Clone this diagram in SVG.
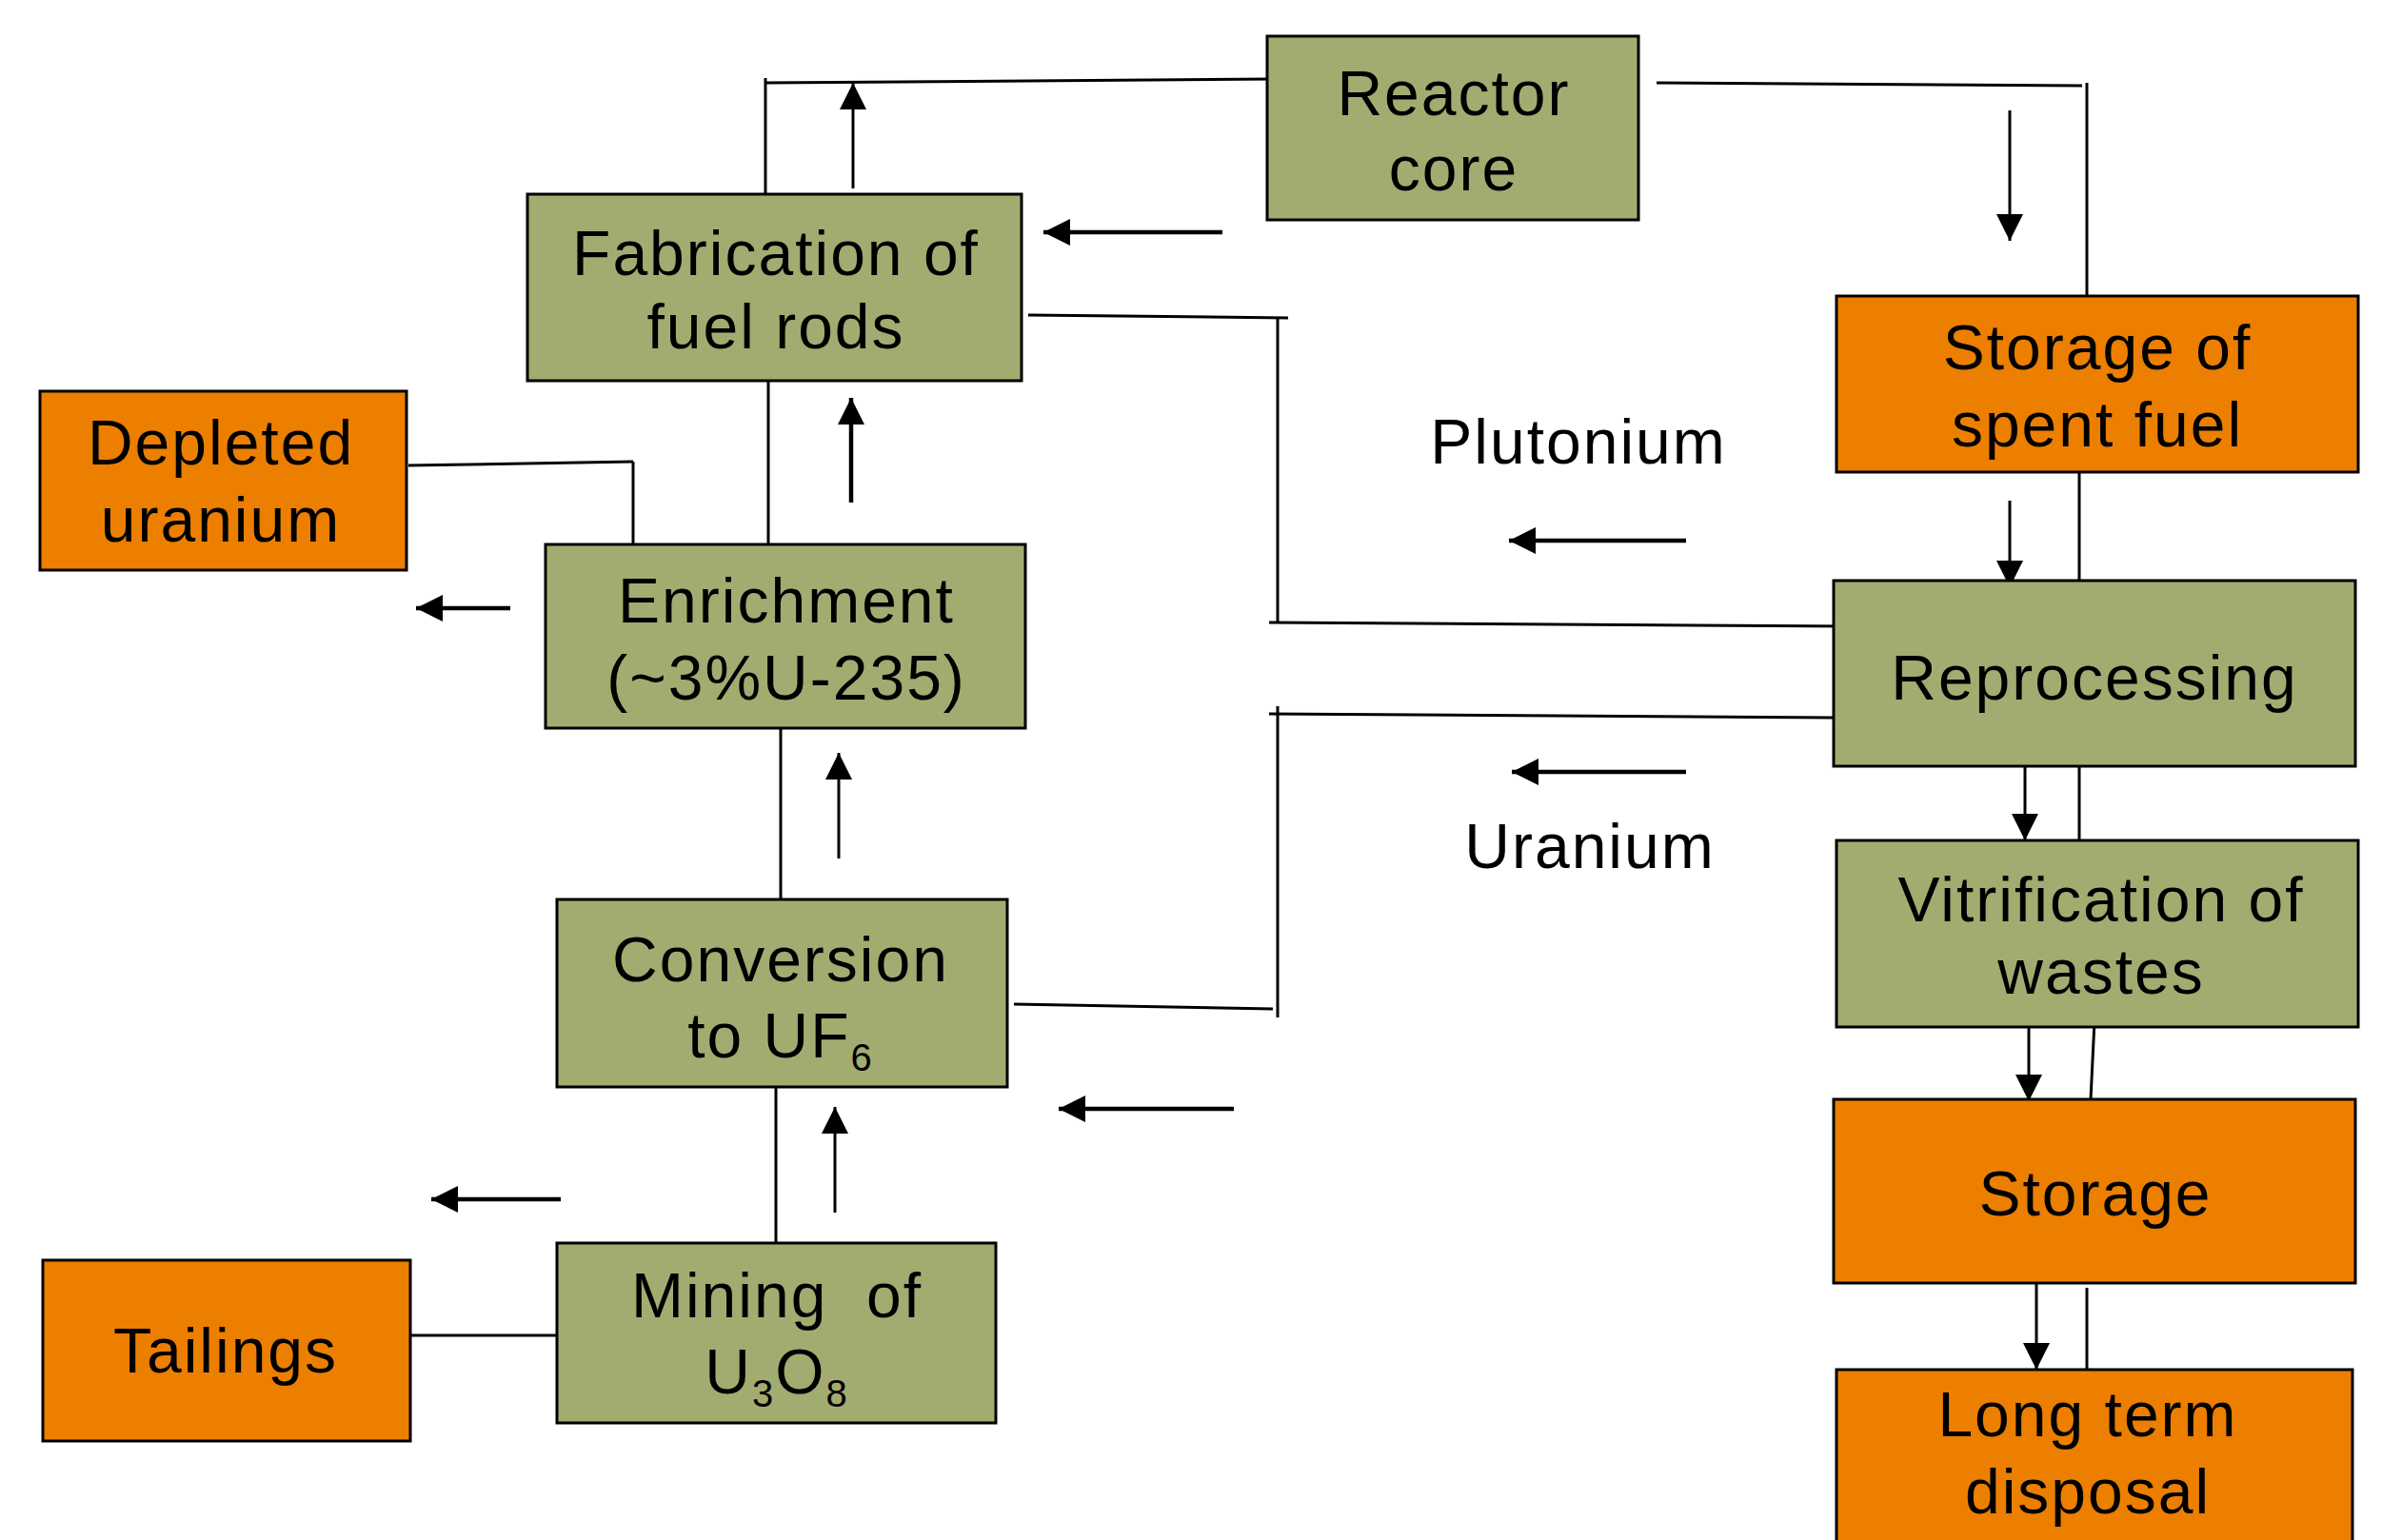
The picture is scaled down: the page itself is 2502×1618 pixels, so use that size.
<svg xmlns="http://www.w3.org/2000/svg" width="2502" height="1618" viewBox="0 0 2502 1618">
<style>
.g{fill:#A3AC70;stroke:#000;stroke-width:3}
.o{fill:#EC7F00;stroke:#000;stroke-width:3}
text{font-family:"Liberation Sans",Arial,sans-serif;font-size:66px;letter-spacing:2px;fill:#000;text-anchor:middle}
.c line{stroke:#000;stroke-width:3;fill:none}
.c .a{marker-end:url(#ah)}
.c .t{stroke-width:4.5}
</style>
<defs>
<marker id="ah" markerUnits="userSpaceOnUse" markerWidth="30" markerHeight="28" viewBox="0 0 30 28" refX="28" refY="14" orient="auto">
<path d="M0,0 L28,14 L0,28 Z" fill="#000"/>
</marker>
</defs>
<rect width="2502" height="1618" fill="#fff"/>
<g class="c" id="connectors">
<line x1="804" y1="87" x2="1335" y2="83"/>
<line x1="804" y1="82" x2="804" y2="209"/>
<line x1="1740" y1="87" x2="2187" y2="90"/>
<line x1="2192" y1="87" x2="2192" y2="316"/>
<line x1="1080" y1="331" x2="1353" y2="334"/>
<line x1="1342" y1="334" x2="1342" y2="653"/>
<line x1="1333" y1="654" x2="1943" y2="658"/>
<line x1="807" y1="400" x2="807" y2="572"/>
<line x1="429" y1="489" x2="665" y2="485"/>
<line x1="665" y1="485" x2="665" y2="572"/>
<line x1="820" y1="765" x2="820" y2="955"/>
<line x1="1065" y1="1055" x2="1337" y2="1060"/>
<line x1="1342" y1="742" x2="1342" y2="1069"/>
<line x1="1333" y1="750" x2="1926" y2="754"/>
<line x1="815" y1="1129" x2="815" y2="1319"/>
<line x1="431" y1="1403" x2="585" y2="1403"/>
<line x1="2184" y1="487" x2="2184" y2="610"/>
<line x1="2184" y1="794" x2="2184" y2="895"/>
<line x1="2200" y1="1073" x2="2196" y2="1155"/>
<line x1="2192" y1="1353" x2="2192" y2="1445"/>
<line class="a" x1="896" y1="198" x2="896" y2="87"/>
<line class="a t" x1="1284" y1="244" x2="1096" y2="244"/>
<line class="a t" x1="894" y1="528" x2="894" y2="418"/>
<line class="a t" x1="536" y1="639" x2="437" y2="639"/>
<line class="a" x1="881" y1="902" x2="881" y2="791"/>
<line class="a t" x1="1296" y1="1165" x2="1112" y2="1165"/>
<line class="a" x1="877" y1="1274" x2="877" y2="1163"/>
<line class="a t" x1="589" y1="1260" x2="453" y2="1260"/>
<line class="a" x1="2111" y1="116" x2="2111" y2="253"/>
<line class="a" x1="2111" y1="526" x2="2111" y2="617"/>
<line class="a t" x1="1771" y1="568" x2="1585" y2="568"/>
<line class="a t" x1="1771" y1="811" x2="1588" y2="811"/>
<line class="a" x1="2127" y1="794" x2="2127" y2="883"/>
<line class="a" x1="2131" y1="1071" x2="2131" y2="1157"/>
<line class="a" x1="2139" y1="1348" x2="2139" y2="1439"/>
</g>
<g id="reactor"><rect class="g" x="1331" y="38" width="390" height="193"/><text x="1527" y="121">Reactor</text><text x="1527" y="200">core</text></g>
<g id="fabrication"><rect class="g" x="554" y="204" width="519" height="196"/><text x="815" y="289">Fabrication of</text><text x="815" y="366">fuel rods</text></g>
<g id="depleted"><rect class="o" x="42" y="411" width="385" height="188"/><text x="232" y="488">Depleted</text><text x="232" y="569">uranium</text></g>
<g id="enrichment"><rect class="g" x="573" y="572" width="504" height="193"/><text x="826" y="654">Enrichment</text><text x="826" y="735">(~3%U-235)</text></g>
<g id="conversion"><rect class="g" x="585" y="945" width="473" height="197"/><text x="820" y="1031">Conversion</text><text x="820" y="1111">to UF<tspan font-size="40" dy="14">6</tspan></text></g>
<g id="mining"><rect class="g" x="585" y="1306" width="461" height="189"/><text x="816" y="1384" xml:space="preserve">Mining  of</text><text x="816" y="1464">U<tspan font-size="40" dy="14">3</tspan><tspan dy="-14">O</tspan><tspan font-size="40" dy="14">8</tspan></text></g>
<g id="tailings"><rect class="o" x="45" y="1324" width="386" height="190"/><text x="237" y="1442">Tailings</text></g>
<g id="spentfuel"><rect class="o" x="1929" y="311" width="548" height="185"/><text x="2203" y="388">Storage of</text><text x="2203" y="469">spent fuel</text></g>
<g id="reprocessing"><rect class="g" x="1926" y="610" width="548" height="195"/><text x="2200" y="735">Reprocessing</text></g>
<g id="vitrification"><rect class="g" x="1929" y="883" width="548" height="196"/><text x="2207" y="968">Vitrification of</text><text x="2207" y="1044">wastes</text></g>
<g id="storage"><rect class="o" x="1926" y="1155" width="548" height="193"/><text x="2201" y="1277">Storage</text></g>
<g id="disposal"><rect class="o" x="1929" y="1439" width="542" height="200"/><text x="2193" y="1509">Long term</text><text x="2193" y="1590">disposal</text></g>
<g id="labels"><text x="1658" y="487">Plutonium</text><text x="1670" y="912">Uranium</text></g>
</svg>
